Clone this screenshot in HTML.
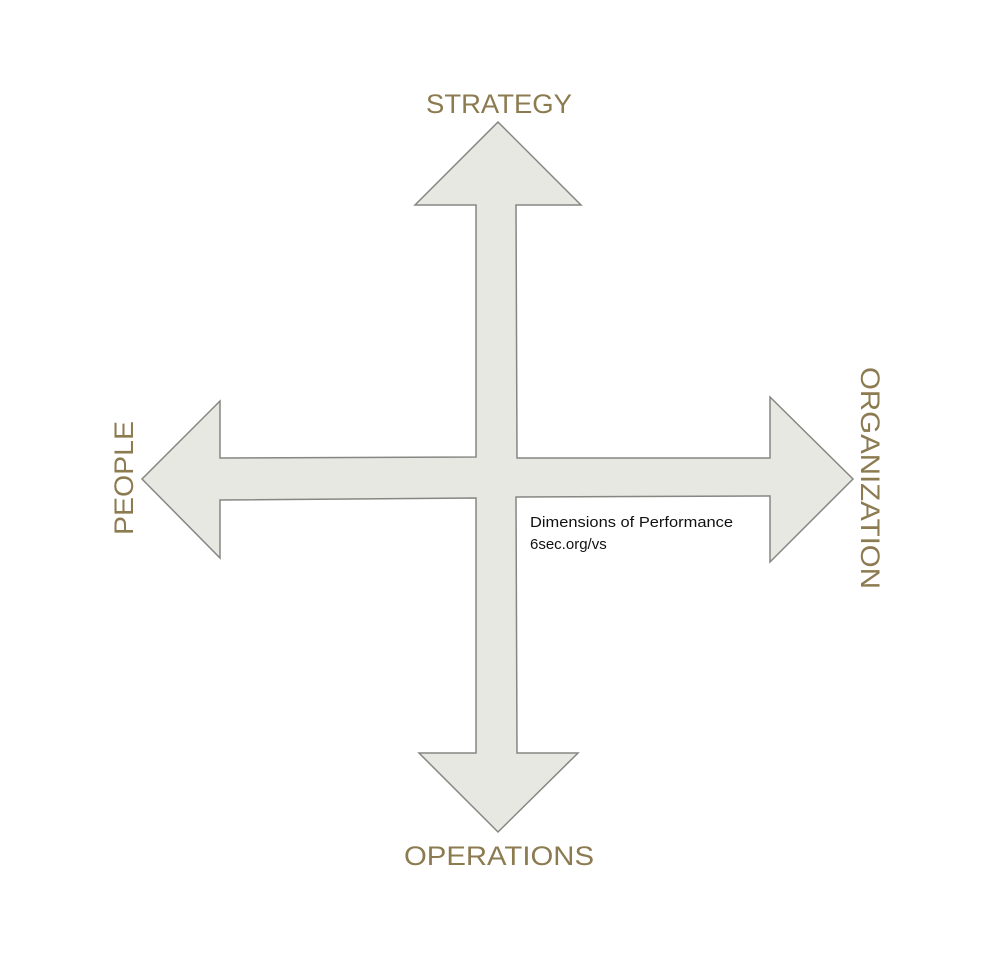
<!DOCTYPE html>
<html><head><style>body{margin:0;background:#fff}svg{display:block}</style></head><body>
<svg width="1000" height="956" xmlns="http://www.w3.org/2000/svg">
<polygon points="498,122 581,205 516,205 517,458 770,458 770,397 853,479 770,562 770,496 516,497 517,753 578,753 498,832 419,753 476,753 476,498 220,500 220,558 142,479 220,401 220,458 476,457 476,205 415,205" fill="#e7e8e2" stroke="#868683" stroke-width="1.5" stroke-linejoin="miter"/>
<g font-family="Liberation Sans, sans-serif" fill="#8c7b50" font-size="27">
<text x="499" y="113" text-anchor="middle" textLength="146" lengthAdjust="spacingAndGlyphs">STRATEGY</text>
<text x="499" y="865" text-anchor="middle" textLength="190" lengthAdjust="spacingAndGlyphs">OPERATIONS</text>
<text transform="translate(133,478) rotate(-90)" text-anchor="middle" textLength="114" lengthAdjust="spacingAndGlyphs">PEOPLE</text>
<text transform="translate(861,478) rotate(90)" text-anchor="middle" textLength="222" lengthAdjust="spacingAndGlyphs">ORGANIZATION</text>
</g>
<g font-family="Liberation Sans, sans-serif" fill="#111" font-size="15">
<text x="530" y="527" textLength="203" lengthAdjust="spacingAndGlyphs">Dimensions of Performance</text>
<text x="530" y="549">6sec.org/vs</text>
</g>
</svg>
</body></html>
